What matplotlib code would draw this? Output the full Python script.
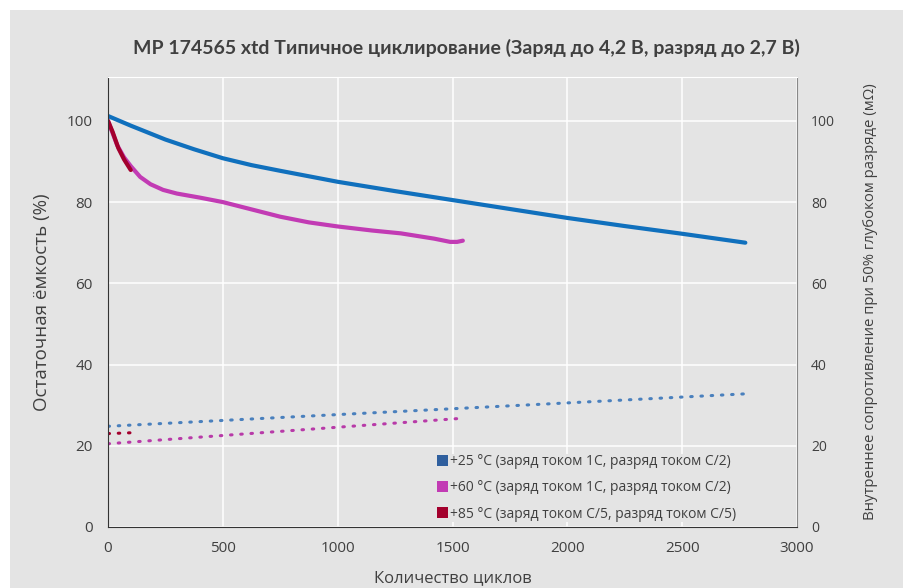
import matplotlib.pyplot as plt
from matplotlib.patches import Rectangle, Patch

# capacity curves (%)
cyc_25 = [0, 100, 250, 375, 500, 625, 750, 1000, 1250, 1500, 1750, 2000, 2250, 2500, 2775]
cap_25 = [101.2, 98.8, 95.4, 93.0, 90.8, 89.1, 87.7, 85.0, 82.7, 80.5, 78.3, 76.1, 74.1,
          72.2, 70.0]

cyc_60 = [0, 20, 40, 70, 100, 140, 185, 240, 300, 400, 500, 625, 750, 875, 1000,
          1150, 1275, 1420, 1490, 1520, 1545]
cap_60 = [100.0, 97.0, 94.0, 91.0, 88.8, 86.2, 84.4, 83.0, 82.1, 81.1, 80.0, 78.2, 76.4,
          75.0, 74.0, 73.0, 72.3, 71.0, 70.2, 70.2, 70.5]

cyc_85 = [0, 20, 45, 70, 99]
cap_85 = [100.0, 97.3, 93.3, 90.5, 87.9]

# internal resistance (mOhm)
res_cyc_25 = [0, 2780]
res_25 = [24.8, 32.8]
res_cyc_60 = [0, 1550]
res_60 = [20.5, 26.8]
res_cyc_85 = [0, 100]
res_85 = [23.0, 23.2]

labels = ['+25 °C (заряд током 1С, разряд током С/2)',
          '+60 °C (заряд током 1С, разряд током С/2)',
          '+85 °C (заряд током С/5, разряд током С/5)']

BG = '#e4e4e4'
TXT = '#404040'

plt.rcParams['font.family'] = ['Open Sans', 'DejaVu Sans']

fig = plt.figure(figsize=(9.12, 5.88), dpi=100)
fig.patches.append(Rectangle((10 / 912, 0), 893 / 912, 578 / 588,
                             transform=fig.transFigure, facecolor=BG,
                             edgecolor='none', zorder=-10))

ax = fig.add_axes([108 / 912, 61 / 588, 689 / 912, 450 / 588])
ax.set_facecolor(BG)
ax.set_xlim(0, 3000)
ax.set_ylim(0, 110.8)
ax.set_xticks(range(0, 3001, 500))
ax.set_yticks(range(0, 101, 20))
ax.grid(True, color='white', linewidth=1.1)
ax.set_axisbelow(True)
ax.tick_params(length=0, labelsize=11, colors=TXT)
ax.tick_params(axis='y', pad=11)
ax.tick_params(axis='x', pad=10)
ax.spines['left'].set_color('#333333')
ax.spines['bottom'].set_color('#333333')
ax.spines['top'].set_color('white')
ax.spines['right'].set_color('#888888')
ax.spines['right'].set_linewidth(0.8)

ax.plot(cyc_25, cap_25, color='#1070bd', linewidth=3, solid_capstyle='round')
ax.plot(cyc_60, cap_60, color='#c23bb4', linewidth=3, solid_capstyle='round')
ax.plot(cyc_85, cap_85, color='#a3002d', linewidth=3, solid_capstyle='round')

dots = (0, (0.5, 2.85))
ax.plot(res_cyc_25, res_25, color='#4a80bd', linewidth=2.2, linestyle=dots,
        dash_capstyle='round')
ax.plot(res_cyc_60, res_60, color='#b83aa8', linewidth=2.2, linestyle=dots,
        dash_capstyle='round')
ax.plot(res_cyc_85, res_85, color='#a3002d', linewidth=2.2, linestyle=dots,
        dash_capstyle='round')

ax.set_xlabel('Количество циклов', fontsize=12, color=TXT, labelpad=10)
ax.set_ylabel('Остаточная ёмкость (%)', fontsize=13.5, color=TXT, labelpad=11)

ax2 = ax.twinx()
ax2.set_ylim(0, 110.8)
ax2.set_yticks(range(0, 101, 20))
ax2.tick_params(length=0, labelsize=10, colors=TXT, pad=10)
for s in ax2.spines.values():
    s.set_visible(False)
ax2.set_ylabel('Внутреннее сопротивление при 50% глубоком разряде (мΩ)',
               fontsize=10.7, color=TXT, labelpad=20)

handles = [Patch(facecolor=c) for c in ['#2f5f9e', '#c23bb4', '#a3002d']]
leg = ax.legend(handles, labels, loc='lower left',
                bbox_to_anchor=((437 - 108) / 689, 0.012),
                frameon=True, facecolor=BG, edgecolor='none', framealpha=1,
                fontsize=10, handlelength=0.8, handleheight=0.8,
                handletextpad=0.1, labelspacing=0.8, borderpad=0.0,
                borderaxespad=0.0, fancybox=False)
for t in leg.get_texts():
    t.set_color(TXT)

fig.text(0.511, 0.918, 'MP 174565 xtd Типичное циклирование (Заряд до 4,2 В, разряд до 2,7 В)',
         ha='center', va='center', fontsize=14, fontweight='bold', color=TXT,
         family=['Lato', 'DejaVu Sans'])

fig.savefig('out.png', dpi=100, facecolor='white')
